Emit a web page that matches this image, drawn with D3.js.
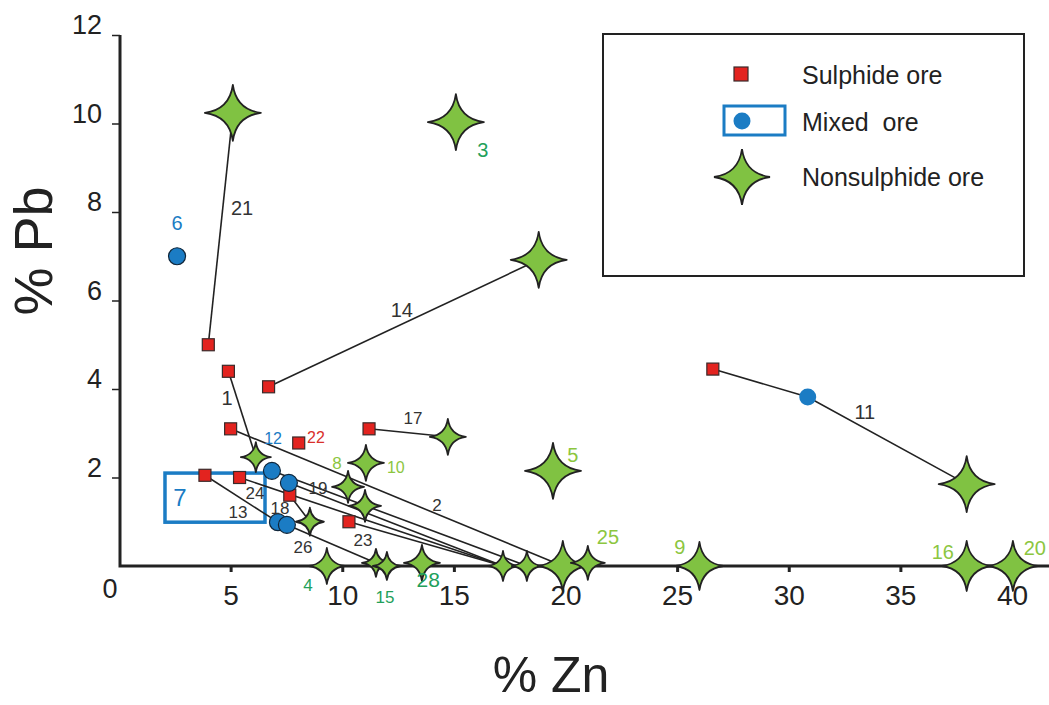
<!DOCTYPE html>
<html>
<head>
<meta charset="utf-8">
<script src="https://cdn.jsdelivr.net/npm/d3@7"></script>
<style>
  html, body { margin: 0; padding: 0; background: #fff; }
  svg { display: block; font-family: "Liberation Sans", Arial, sans-serif; }
</style>
</head>
<body>
<svg id="chart" width="1049" height="705"></svg>
<script>
// values: [% Zn, % Pb]
const sulphide = [[4.0,5.0],[4.9,4.4],[6.7,4.05],[5.0,3.1],[8.05,2.78],[11.2,3.1],
  [3.85,2.05],[5.4,2.0],[7.65,1.6],[10.3,1.0],[26.6,4.45]];
const mixed = [[2.6,7.0],[6.85,2.15],[7.61,1.88],[7.12,0.99],[7.52,0.93],[30.85,3.82]];
const nonsulphide = [[5.1,10.24],[15.09,10.03],[18.8,6.92],[6.13,2.46],[11.06,2.33],
  [14.73,2.92],[19.44,2.15],[10.26,1.79],[11.02,1.36],[8.55,1.0],[9.31,0],[11.51,0.07],
  [12.0,0],[13.57,0.07],[17.2,0],[18.27,0],[19.88,0],[21.0,0.07],[26.0,0],[37.97,1.85],
  [37.97,0],[40.04,0]];

// tie lines between ore types of the same deposit
const tieLines = [
  [[4.0,5.0],[5.1,10.24]],
  [[4.9,4.4],[6.13,2.46]],
  [[6.7,4.05],[18.8,6.92]],
  [[11.2,3.1],[14.73,2.92]],
  [[5.0,3.1],[19.88,0]],
  [[26.6,4.45],[30.85,3.82],[37.97,1.85]],
  [[3.85,2.05],[7.12,0.99]],
  [[5.4,2.0],[17.2,0]],
  [[6.85,2.15],[18.27,0]],
  [[7.61,1.88],[17.2,0]],
  [[7.61,1.88],[7.65,1.6],[8.55,1.0]],
  [[10.3,1.0],[17.2,0]],
  [[7.52,0.93],[11.51,0.07]]
];

// deposit numbers: [text, zn, pb, kind]
const labels = [
  ["6",2.6,7.75,"mixed"],["21",5.51,8.09,"line"],["3",16.3,9.4,"dark"],["14",12.67,5.79,"line"],
  ["1",4.84,3.8,"line"],["12",6.9,2.89,"mixed"],["22",8.82,2.92,"sulphide"],["17",13.17,3.34,"line"],
  ["8",9.76,2.33,"light"],["10",12.4,2.24,"light"],["19",8.91,1.76,"line"],["2",14.24,1.38,"line"],
  ["24",6.09,1.65,"line"],["13",5.33,1.22,"line"],["18",7.21,1.31,"line"],["23",10.93,0.59,"line"],
  ["26",8.24,0.43,"line"],["4",8.46,-0.43,"dark"],["15",11.91,-0.7,"dark"],["28",13.85,-0.3,"dark"],
  ["25",21.9,0.66,"light"],["5",20.33,2.51,"light"],["9",25.12,0.43,"light"],["16",36.9,0.32,"light"],
  ["20",41.02,0.41,"light"],["11",33.41,3.48,"line"],["7",2.73,1.56,"mixed"]
];

// box around deposit 7: [zn0, pb0, zn1, pb1]
const box7 = [2.06, 2.1, 6.54, 0.99];

const xTicks = [5,10,15,20,25,30,35,40];
const yTicks = [2,4,6,8,10,12];

const legendItems = ["Sulphide ore", "Mixed  ore", "Nonsulphide ore"];

// ---- styles
const RED = "#e3231f", BLUE = "#1b7cc4", GREEN = "#80c242", INK = "#222";
const labelColor = {mixed: BLUE, sulphide: "#d9302a", light: "#8cc63f", dark: "#22a05a", line: "#333"};
const starR = [28,28,28,15,18,18,28,16,16,14,18,14,14,18,15,15,25,17,24,28,25,25];
const bigLabels = new Set(["25","5","3","21","1","11","16","20","14","9","6"]);
const tinyLabels = new Set(["12","22","10"]);

const svg = d3.select("#chart");

const x = d3.scaleLinear().domain([0, 40]).range([119, 1012]);
const y = d3.scaleLinear().domain([0, 12]).range([566, 35]);

function starPath(r){
  const k = r * 0.12;
  return `M0,${-r}Q${k},${-k} ${r},0Q${k},${k} 0,${r}Q${-k},${k} ${-r},0Q${-k},${-k} 0,${-r}Z`;
}

// axes
const gx = svg.append("g").attr("transform", `translate(0,${y(0)})`)
  .call(d3.axisBottom(x).tickValues(xTicks).tickSize(6).tickPadding(13));
gx.select(".domain").remove();
gx.selectAll(".tick line").attr("stroke", INK).attr("stroke-width", 3);
gx.selectAll(".tick text").attr("font-size", 28).attr("fill", INK).attr("font-family", "Liberation Sans, Arial");

const gy = svg.append("g").attr("transform", `translate(120,0)`)
  .call(d3.axisLeft(y).tickValues(yTicks).tickSize(8).tickPadding(10));
gy.select(".domain").remove();
gy.selectAll(".tick line").attr("stroke", INK).attr("stroke-width", 1.5);
gy.selectAll(".tick text").attr("font-size", 27).attr("fill", INK).attr("dy", "-0.05em")
  .attr("font-family", "Liberation Sans, Arial");

svg.append("path")
  .attr("d", `M120,${y(12)}V${y(0)}H1049`)
  .attr("fill", "none").attr("stroke", INK).attr("stroke-width", 3);

svg.append("text").attr("x", 110).attr("y", 598).attr("text-anchor", "middle")
  .attr("font-size", 27).attr("fill", INK).text("0");

svg.append("text").attr("x", 551).attr("y", 692).attr("text-anchor", "middle")
  .attr("font-size", 50).attr("fill", INK).text("% Zn");
svg.append("text").attr("transform", "translate(52,251) rotate(-90)").attr("text-anchor", "middle")
  .attr("font-size", 54).attr("fill", INK).text("% Pb");

// box 7
svg.append("rect")
  .attr("x", x(box7[0])).attr("y", y(box7[1]))
  .attr("width", x(box7[2]) - x(box7[0])).attr("height", y(box7[3]) - y(box7[1]))
  .attr("fill", "none").attr("stroke", BLUE).attr("stroke-width", 3.5);

// tie lines
const line = d3.line().x(d => x(d[0])).y(d => y(d[1]));
svg.append("g").selectAll("path").data(tieLines).join("path")
  .attr("d", line).attr("fill", "none").attr("stroke", INK).attr("stroke-width", 1.6);

// markers
svg.append("g").selectAll("rect").data(sulphide).join("rect")
  .attr("x", d => x(d[0]) - 6).attr("y", d => y(d[1]) - 6)
  .attr("width", 12).attr("height", 12)
  .attr("fill", RED).attr("stroke", "#3a2a2a").attr("stroke-width", 1.2);

svg.append("g").selectAll("circle").data(mixed).join("circle")
  .attr("cx", d => x(d[0])).attr("cy", d => y(d[1])).attr("r", 8.5)
  .attr("fill", BLUE)
  .attr("stroke", d => d[0] < 10 ? "#10263a" : "none").attr("stroke-width", 1.2);

svg.append("g").selectAll("path").data(nonsulphide).join("path")
  .attr("transform", d => `translate(${x(d[0])},${y(d[1])})`)
  .attr("d", (d, i) => starPath(starR[i]))
  .attr("fill", GREEN).attr("stroke", INK).attr("stroke-width", 1.8).attr("stroke-linejoin", "round");

// labels
svg.append("g").selectAll("text").data(labels).join("text")
  .attr("x", d => x(d[1])).attr("y", d => y(d[2]))
  .attr("dy", "0.36em").attr("text-anchor", "middle")
  .attr("font-size", d => d[0] === "7" ? 24 : d[0] === "28" ? 21 : bigLabels.has(d[0]) ? 20 : tinyLabels.has(d[0]) ? 16 : 17)
  .attr("fill", d => labelColor[d[3]])
  .text(d => d[0]);

// legend
const lg = svg.append("g");
lg.append("rect").attr("x", 603).attr("y", 34).attr("width", 421).attr("height", 242)
  .attr("fill", "#fff").attr("stroke", INK).attr("stroke-width", 2);
lg.append("rect").attr("x", 734).attr("y", 67).attr("width", 14).attr("height", 14)
  .attr("fill", RED).attr("stroke", "#3a2a2a").attr("stroke-width", 1.2);
lg.append("rect").attr("x", 724).attr("y", 106).attr("width", 61).attr("height", 29)
  .attr("fill", "none").attr("stroke", BLUE).attr("stroke-width", 3);
lg.append("circle").attr("cx", 742).attr("cy", 121).attr("r", 8.5).attr("fill", BLUE);
lg.append("path").attr("transform", "translate(742,177)").attr("d", starPath(28))
  .attr("fill", GREEN).attr("stroke", INK).attr("stroke-width", 1.8);
lg.selectAll("text.item").data(legendItems).join("text")
  .attr("class", "item")
  .attr("x", 802).attr("y", (d, i) => [84, 131, 186][i])
  .attr("font-size", 25).attr("fill", INK)
  .style("white-space", "pre")
  .text(d => d);
</script>
</body>
</html>
